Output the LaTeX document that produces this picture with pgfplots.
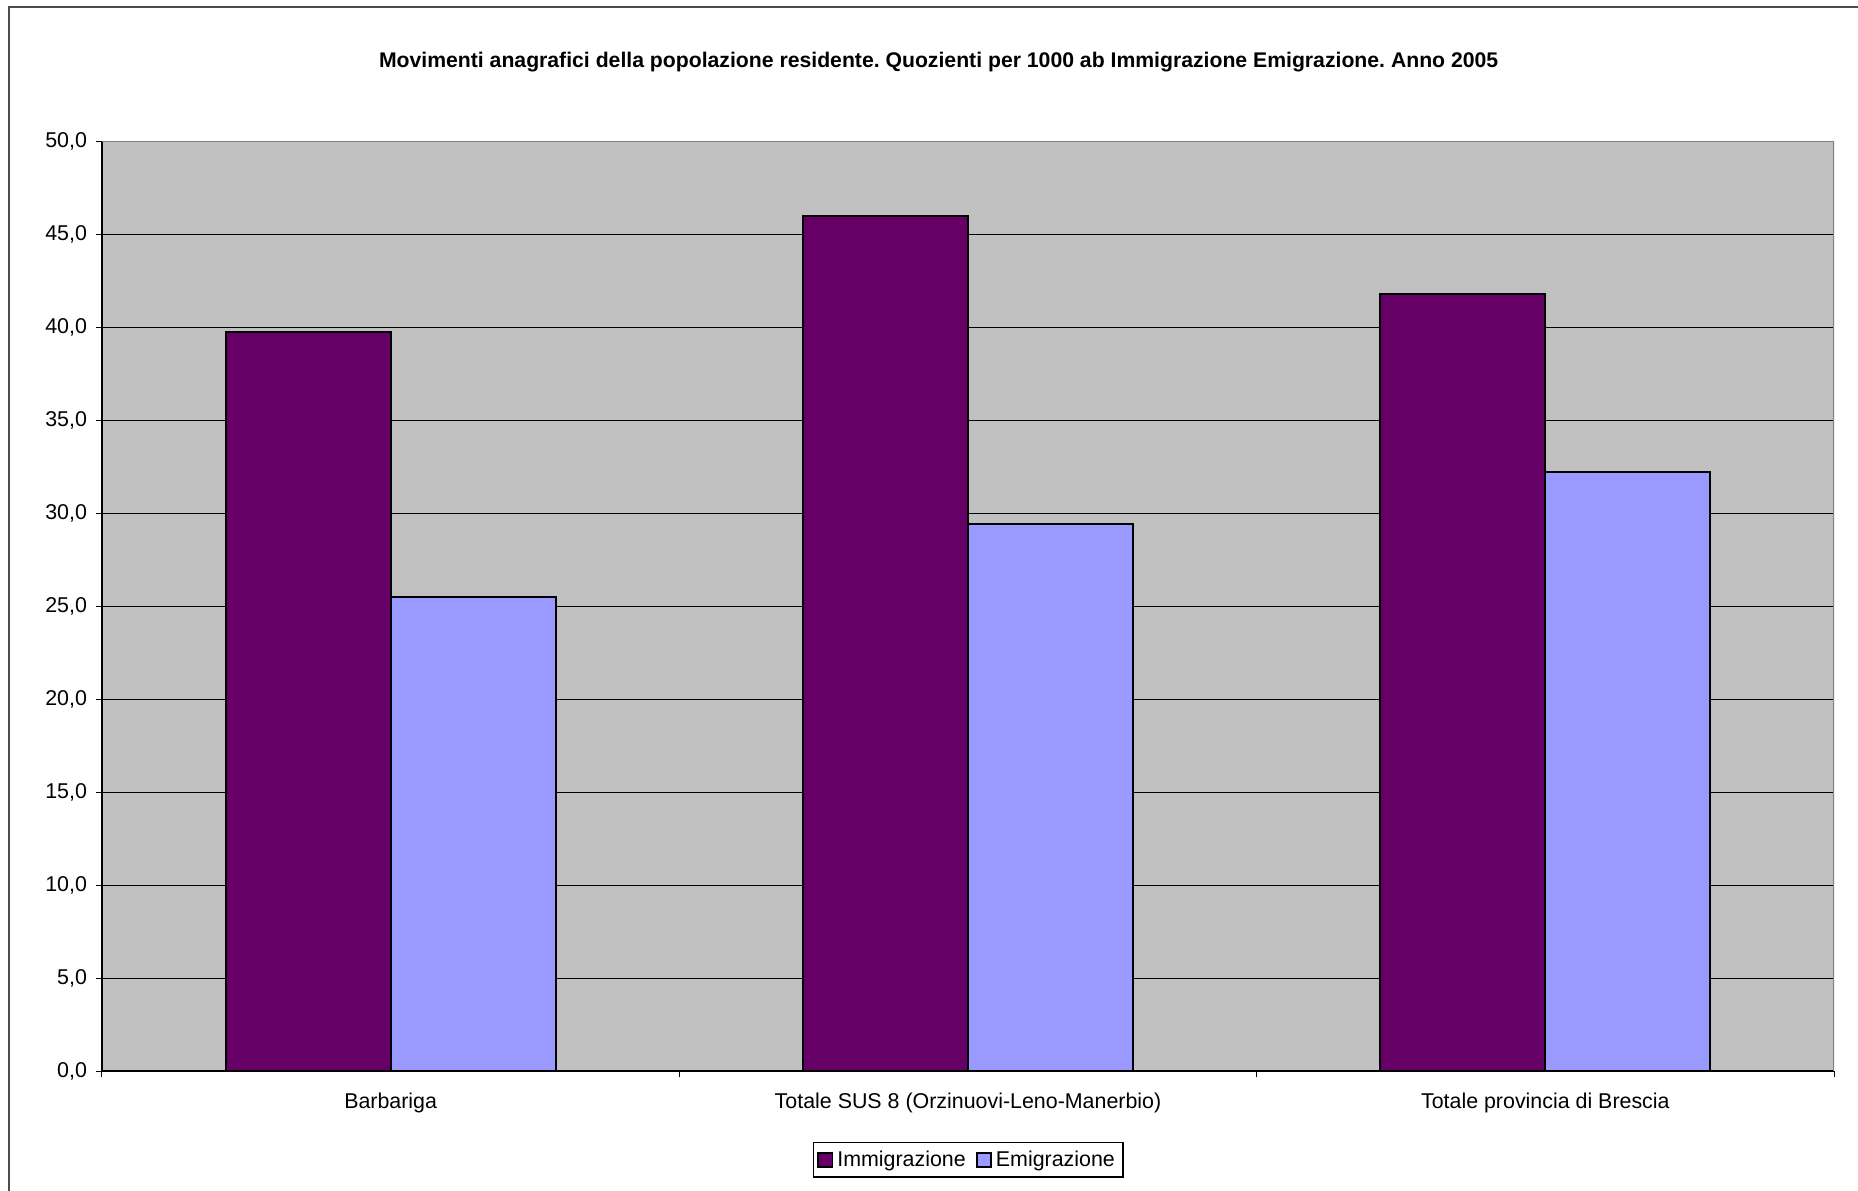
\documentclass[border=0pt]{standalone}
\usepackage{fontspec}
\setmainfont{Liberation Sans}
\usepackage{pgfplots}
\pgfplotsset{compat=1.18}
\definecolor{immig}{HTML}{660066}
\definecolor{emig}{HTML}{9999FF}
\definecolor{plotbg}{HTML}{C0C0C0}
\frenchspacing
\begin{document}
\begin{tikzpicture}
\path[use as bounding box] (0,0) rectangle (929pt,-595pt);
\draw[line width=1pt, black!70] (4.5pt,-600pt) -- (4.5pt,-3.5pt) -- (935pt,-3.5pt);
\node[font=\fontsize{10.6}{12}\selectfont\bfseries] at (469.3pt,-31.2pt) {Movimenti anagrafici della popolazione residente. Quozienti per 1000 ab Immigrazione Emigrazione. Anno 2005};
\begin{axis}[
  at={(51pt,-535.5pt)}, anchor=south west,
  width=866pt, height=465pt, scale only axis,
  xmin=-0.5, xmax=2.5, ymin=0, ymax=50,
  ytick={0,5,...,50},
  xtick={0,1,2},
  xticklabels={Barbariga,Totale SUS 8 (Orzinuovi-Leno-Manerbio),Totale provincia di Brescia},
  minor xtick={-0.5,0.5,1.5,2.5},
  major x tick style={draw=none},
  tick align=outside,
  xtick pos=bottom, ytick pos=left,
  major tick length=3pt, minor tick length=3pt,
  tick style={black, line width=0.5pt},
  ymajorgrids, grid style={black, line width=0.5pt},
  axis background/.style={fill=plotbg},
  axis line style={-, black, line width=0.8pt},
  axis x line*=bottom, axis y line*=left,
  ticklabel style={font=\fontsize{10.7}{12}\selectfont},
  xticklabel style={yshift=-4.5pt},
  yticklabel style={xshift=-1pt},
  /pgf/number format/.cd, fixed, fixed zerofill, precision=1, use comma, assume math mode=true,
  /pgfplots/.cd,
  ybar=0pt, bar width=0.2858,
  legend style={at={(0.5,-0.0955)}, anchor=center, draw=black, line width=0.6pt,
    font=\fontsize{10.7}{12}\selectfont, legend columns=2,
    /tikz/every even column/.append style={column sep=3pt},
    inner xsep=2pt, inner ysep=2pt},
  legend image code/.code={\draw[#1, line width=0.9pt] (0pt,-3.6pt) rectangle (7.2pt,3.6pt);},
  legend cell align=left,
]
\addplot[fill=immig, draw=black, line width=1pt] coordinates {(0,39.75) (1,45.98) (2,41.77)};
\addplot[fill=emig, draw=black, line width=1pt] coordinates {(0,25.47) (1,29.40) (2,32.19)};
\draw[black!50, line width=0.8pt] (axis cs:-0.5,50) -- (axis cs:2.5,50) -- (axis cs:2.5,0);
\legend{Immigrazione,Emigrazione}
\end{axis}
\end{tikzpicture}
\end{document}
